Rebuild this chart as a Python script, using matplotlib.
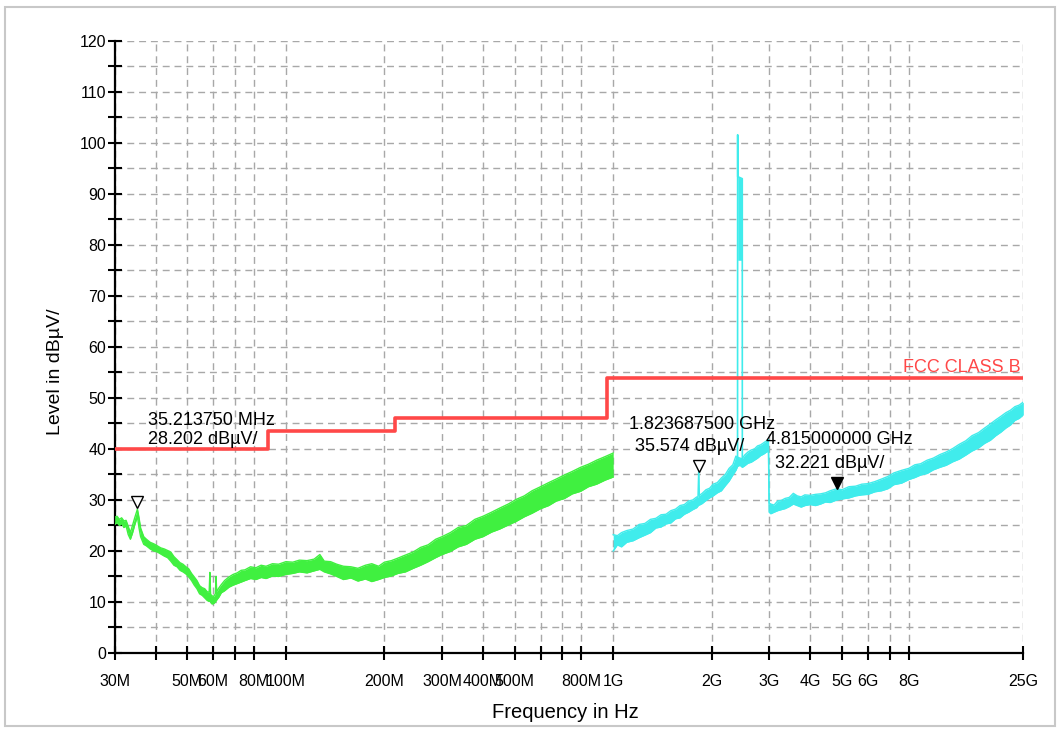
import numpy as np
import matplotlib.pyplot as plt
from matplotlib.patches import Rectangle
from matplotlib.ticker import MultipleLocator, NullLocator

plt.rcParams['font.family'] = ['Liberation Sans', 'DejaVu Sans']

# FCC class B limit line (Hz, dBuV/m)
limit_f = [30e6, 88e6, 88e6, 216e6, 216e6, 960e6, 960e6, 25e9]
limit_v = [40, 40, 43.5, 43.5, 46, 46, 54, 54]

# low band scan 30 MHz - 1 GHz, min/max envelope of the noisy trace (MHz, dB)
green_f = [30, 30.5, 31, 31.5, 32, 32.5, 33, 33.5, 34, 34.5, 35.2, 35.6, 36,
           36.8, 37.5, 38.5, 39.5, 40.5, 41.5, 42.5, 43.5, 44.5, 45.5, 46.5,
           47.5, 48.5, 49.5, 50.5, 51.5, 52.5, 53.5, 54.5, 55.5, 56.5, 57.5,
           58.3, 58.6, 58.9, 59.5, 60.2, 60.9, 61.2, 61.5, 62.5, 63.5, 65, 67,
           69, 71, 73, 75, 78, 81, 84, 87, 91, 95, 100, 105, 110, 116, 122,
           127, 131, 137, 143, 150, 158, 166, 175, 183, 192, 200, 210, 220,
           232, 245, 258, 272, 287, 300, 318, 336, 356, 378, 400, 425, 450,
           478, 505, 535, 565, 600, 635, 670, 710, 750, 795, 840, 890, 945,
           1000]
green_lo = [25.2, 25.6, 25.0, 25.4, 24.6, 24.9, 23.2, 22.3, 23.5, 25.0, 26.8,
            24.5, 22.8, 21.3, 21.0, 20.4, 20.0, 19.8, 19.4, 19.0, 18.7, 18.0,
            17.2, 16.9, 16.2, 15.9, 15.5, 14.9, 14.2, 13.3, 12.6, 11.6, 11.3,
            10.8, 10.3, 10.1, 10.2, 10.0, 9.6, 9.7, 10.0, 10.2, 10.4, 11.0,
            11.8, 12.2, 12.9, 13.3, 13.6, 13.9, 14.2, 14.6, 14.4, 14.8, 14.6,
            15.1, 15.0, 15.4, 15.6, 15.9, 15.7, 16.1, 16.4, 15.9, 15.5, 15.0,
            14.4, 14.7, 14.1, 14.5, 14.0, 14.4, 14.8, 15.1, 15.6, 15.9, 16.6,
            17.2, 17.9, 18.7, 19.3, 19.9, 20.8, 21.3, 22.3, 22.8, 23.7, 24.3,
            25.1, 25.8, 26.7, 27.4, 28.3, 28.9, 29.8, 30.3, 31.2, 31.7, 32.6,
            33.1, 33.9, 34.5]
green_hi = [26.6, 26.8, 26.2, 26.5, 25.9, 26.0, 24.8, 23.6, 25.0, 26.4, 28.2,
            26.5, 24.5, 22.8, 22.3, 21.7, 21.4, 21.0, 20.6, 20.4, 20.1, 19.8,
            18.9, 18.3, 17.7, 17.4, 16.9, 16.5, 15.6, 14.9, 14.2, 13.2, 12.8,
            12.6, 12.0, 11.9, 15.8, 11.5, 11.2, 11.1, 11.6, 15.0, 12.0, 12.8,
            13.4, 14.2, 14.9, 15.4, 15.7, 16.2, 16.3, 16.9, 16.7, 17.2, 17.0,
            17.5, 17.4, 17.9, 17.8, 18.2, 18.1, 18.4, 19.3, 18.0, 17.9, 17.4,
            17.0, 16.9, 16.6, 17.2, 17.5, 17.0, 17.8, 18.1, 18.6, 19.2, 19.8,
            20.7, 21.2, 22.3, 22.8, 23.6, 24.6, 25.0, 26.2, 26.8, 27.6, 28.4,
            29.2, 30.1, 30.8, 31.8, 32.6, 33.4, 34.1, 34.9, 35.6, 36.4, 37.0,
            37.8, 38.5, 39.2]

# high band scan 1 GHz - 25 GHz (GHz, dB)
cyan_f = [1.0, 1.03, 1.06, 1.1, 1.15, 1.2, 1.25, 1.3, 1.35, 1.4, 1.45, 1.5,
          1.55, 1.6, 1.65, 1.7, 1.75, 1.8, 1.815, 1.824, 1.833, 1.87, 1.92,
          1.97, 2.02, 2.08, 2.14, 2.2, 2.26, 2.32, 2.37, 2.40, 2.44, 2.48,
          2.52, 2.58, 2.64, 2.7, 2.76, 2.82, 2.88, 2.94, 2.98, 2.995, 3.03,
          3.1, 3.18, 3.26, 3.35, 3.45, 3.55, 3.65, 3.75, 3.85, 4.0, 4.15, 4.3,
          4.45, 4.6, 4.815, 5.0, 5.25, 5.5, 5.75, 6.0, 6.3, 6.6, 6.9, 7.2,
          7.6, 8.0, 8.5, 9.0, 9.6, 10.2, 10.9, 11.6, 12.4, 13.2, 14.1, 15.0,
          16.0, 17.0, 18.0, 19.0, 20.0, 21.0, 22.0, 23.0, 24.0, 25.0]
cyan_lo = [20.0, 21.2, 20.8, 21.7, 22.0, 22.6, 23.1, 23.6, 24.5, 24.7, 25.3,
           25.5, 26.3, 26.5, 27.2, 27.6, 28.1, 28.5, 28.8, 29.0, 29.0, 29.3,
           29.9, 30.4, 30.8, 31.4, 31.8, 32.8, 33.7, 34.9, 35.8, 36.6, 36.8,
           36.4, 36.7, 37.2, 37.4, 37.8, 38.2, 38.7, 39.0, 39.4, 39.6, 27.6,
           27.3, 27.6, 27.9, 28.1, 28.3, 28.7, 29.2, 28.9, 28.6, 28.9, 29.1,
           28.9, 29.2, 29.6, 29.5, 30.0, 30.2, 30.4, 30.8, 31.0, 31.1, 31.6,
           31.8, 32.2, 33.0, 33.3, 34.0, 34.4, 34.9, 35.2, 35.9, 36.4, 36.8,
           37.5, 38.0, 38.8, 39.6, 40.2, 41.1, 41.7, 42.6, 43.3, 44.1, 44.7,
           45.6, 46.0, 46.7]
cyan_hi = [23.2, 23.0, 23.6, 24.0, 24.3, 25.2, 25.4, 26.2, 26.4, 27.1, 27.2,
           27.9, 28.2, 28.9, 29.1, 29.8, 30.0, 30.6, 30.5, 35.6, 30.9, 31.3,
           32.0, 32.3, 33.1, 33.4, 34.3, 35.0, 36.2, 36.9, 38.6, 38.4, 38.2,
           38.1, 38.8, 39.4, 39.8, 40.0, 40.6, 40.8, 41.2, 41.6, 41.9, 29.4,
           29.2, 29.0, 29.8, 29.9, 30.3, 30.5, 31.3, 30.8, 30.6, 31.0, 30.9,
           31.1, 31.2, 31.4, 31.8, 32.2, 32.0, 32.6, 32.7, 33.1, 33.2, 33.6,
           34.1, 34.6, 35.3, 35.8, 36.2, 36.9, 37.1, 37.8, 38.2, 38.9, 39.4,
           40.1, 40.9, 41.6, 42.6, 43.2, 44.1, 44.9, 45.7, 46.4, 47.1, 47.6,
           48.3, 48.6, 49.2]

# 2.4 GHz ISM carrier: edge trace and the dense block inside the band
spike_f = [2.398, 2.400, 2.401, 2.479, 2.480]
spike_v = [38.0, 101.6, 93.4, 93.0, 37.0]
ism_f = [2.401, 2.479]
ism_lo = [77.0, 77.0]
ism_hi = [93.4, 93.0]

# markers
m1_f, m1_v = 35.213750e6, 28.202
m2_f, m2_v = 1.8236875e9, 35.574
m3_f, m3_v = 4.815e9, 32.221

xtick_f = [30e6, 40e6, 50e6, 60e6, 70e6, 80e6, 100e6, 200e6, 300e6, 400e6,
           500e6, 600e6, 700e6, 800e6, 1e9, 2e9, 3e9, 4e9, 5e9, 6e9, 7e9,
           8e9, 25e9]
xtick_lab = ['30M', '', '50M', '60M', '', '80M', '100M', '200M', '300M',
             '400M', '500M', '', '', '800M', '1G', '2G', '3G', '4G', '5G',
             '6G', '', '8G', '25G']

# the analyser axis is log, but squeezed above 8 GHz
LB = np.log10(8e9)
K = np.log10(17.9 / 8) / np.log10(25 / 8)


def fwd(f):
    lf = np.log10(np.maximum(np.asarray(f, dtype=float), 1.0))
    return np.where(lf <= LB, lf, LB + (lf - LB) * K)


def inv(v):
    v = np.asarray(v, dtype=float)
    return np.where(v <= LB, 10 ** v, 10 ** (LB + (v - LB) / K))


GREEN = '#40f040'
CYAN = '#40ecec'
RED = '#ff4848'

fig = plt.figure(figsize=(10.6, 7.29), dpi=100)
fig.patches.append(Rectangle((0.005, 0.004), 0.99, 0.987, transform=fig.transFigure,
                             fill=False, edgecolor='#c8c8c8', lw=1.5))
ax = fig.add_axes([0.1082, 0.1043, 0.8572, 0.8395])
ax.set_xscale('function', functions=(fwd, inv))

gf = np.array(green_f) * 1e6
ax.fill_between(gf, green_lo, green_hi, color=GREEN, lw=0, zorder=3)
ax.plot(gf, green_lo, color=GREEN, lw=1, zorder=3)
ax.plot(gf, green_hi, color=GREEN, lw=1, zorder=3)

cf = np.array(cyan_f) * 1e9
ax.fill_between(cf, cyan_lo, cyan_hi, color=CYAN, lw=0, zorder=3)
ax.plot(cf, cyan_lo, color=CYAN, lw=1, zorder=3)
ax.plot(cf, cyan_hi, color=CYAN, lw=1, zorder=3)
ax.fill_between(np.array(ism_f) * 1e9, ism_lo, ism_hi, color=CYAN, lw=0, zorder=3)
ax.plot(np.array(spike_f) * 1e9, spike_v, color=CYAN, lw=1.2, zorder=3)

ax.plot(limit_f, limit_v, color=RED, lw=2.6, zorder=4)

ax.plot(m1_f, m1_v + 1.4, marker='v', ms=8, mfc='white', mec='black', mew=1, zorder=6)
ax.plot(m2_f, m2_v + 1.0, marker='v', ms=8, mfc='white', mec='black', mew=1, zorder=6)
ax.plot(m3_f, m3_v + 1.2, marker='v', ms=8, mfc='black', mec='black', mew=1, zorder=6)

tkw = dict(fontsize=13, color='black', zorder=7, va='center', ha='left')
ax.text(37.8e6, 45.5, f'{m1_f / 1e6:.6f} MHz', **tkw)
ax.text(37.8e6, 41.8, f'{m1_v:.3f} dBµV/', **tkw)
ax.text(1.116e9, 44.7, f'{m2_f / 1e9:.9f} GHz', **tkw)
ax.text(1.164e9, 40.4, f'{m2_v:.3f} dBµV/', **tkw)
ax.text(2.92e9, 41.8, f'{m3_f / 1e9:.9f} GHz', **tkw)
ax.text(3.12e9, 37.2, f'{m3_v:.3f} dBµV/', **tkw)
ax.text(0.997, 56, 'FCC CLASS B', transform=ax.get_yaxis_transform(),
        ha='right', va='center', fontsize=13, color=RED, zorder=7)

ax.set_xlim(30e6, 25e9)
ax.set_ylim(0, 120)
ax.set_xticks(xtick_f)
ax.set_xticklabels(xtick_lab)
ax.xaxis.set_minor_locator(NullLocator())
ax.yaxis.set_major_locator(MultipleLocator(10))
ax.yaxis.set_minor_locator(MultipleLocator(5))

ax.grid(True, which='both', color='#a8a8a8', ls=(0, (5, 3.5)), lw=1)
ax.set_axisbelow(True)
for s in ('top', 'right'):
    ax.spines[s].set_visible(False)
for s in ('left', 'bottom'):
    ax.spines[s].set_linewidth(1.6)
ax.tick_params(axis='both', which='both', direction='inout', length=10,
               width=1.5, labelsize=11.5)
ax.tick_params(axis='y', pad=1)
ax.tick_params(axis='x', pad=10)

fig.text(565 / 1060, 1 - 713 / 729, 'Frequency in Hz', ha='center', va='center', fontsize=14.5)
fig.text(55 / 1060, 1 - 372 / 729, 'Level in dBµV/', ha='center', va='center',
         rotation=90, fontsize=14)

fig.savefig('out.png', dpi=100)
